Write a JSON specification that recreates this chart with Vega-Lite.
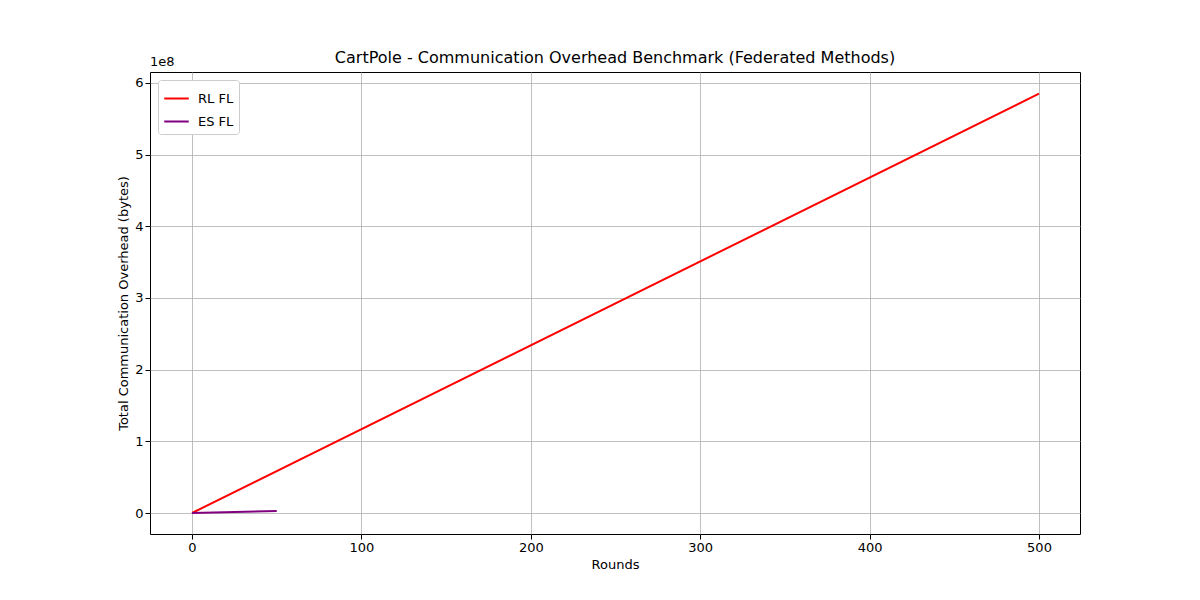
{
  "$schema": "https://vega.github.io/schema/vega-lite/v6.json",
  "width": 930,
  "height": 462,
  "autosize": {"type": "none"},
  "padding": {"left": 150, "top": 72, "right": 120, "bottom": 66},
  "config": {
    "font": "DejaVu Sans",
    "view": {"stroke": "black", "strokeWidth": 1},
    "axis": {"grid": true, "gridColor": "#b0b0b0", "gridWidth": 0.8, "domain": false, "tickColor": "black", "tickSize": 5, "labelFontSize": 13, "titleFontSize": 13, "labelColor": "black", "titleColor": "black", "titleFontWeight": "normal", "labelFont": "DejaVu Sans", "titleFont": "DejaVu Sans"}
  },
  "title": {"text": "CartPole - Communication Overhead Benchmark (Federated Methods)", "fontSize": 16, "fontWeight": "normal", "font": "DejaVu Sans", "offset": -10},
  "layer": [
    {
      "data": {"values": [
        {"round": 0, "bytes": 0, "method": "RL FL"},
        {"round": 500, "bytes": 585000000, "method": "RL FL"},
        {"round": 0, "bytes": 0, "method": "ES FL"},
        {"round": 50, "bytes": 2800000, "method": "ES FL"}
      ]},
      "mark": {"type": "line", "strokeWidth": 2},
      "encoding": {
        "x": {"field": "round", "type": "quantitative", "title": "Rounds", "scale": {"domain": [-24.8, 524.2], "nice": false, "zero": false}, "axis": {"values": [0, 100, 200, 300, 400, 500]}},
        "y": {"field": "bytes", "type": "quantitative", "title": "Total Communication Overhead (bytes)", "scale": {"domain": [-29300000, 615300000], "nice": false, "zero": false}, "axis": {"values": [0, 100000000, 200000000, 300000000, 400000000, 500000000, 600000000], "labelExpr": "format(datum.value/1e8, 'd')"}},
        "color": {"field": "method", "type": "nominal", "scale": {"domain": ["RL FL", "ES FL"], "range": ["red", "purple"]},
          "legend": {"title": null, "orient": "top-left", "offset": 8, "symbolType": "stroke", "symbolSize": 600, "symbolStrokeWidth": 2, "labelFontSize": 13, "labelOffset": 8, "strokeColor": "#cccccc", "fillColor": "white", "padding": 5, "cornerRadius": 3, "rowPadding": 2}}
      }
    },
    {
      "data": {"values": [{"x": -24.8, "y": 615300000, "t": "1e8"}]},
      "mark": {"type": "text", "align": "left", "baseline": "bottom", "dy": -3, "fontSize": 13, "font": "DejaVu Sans"},
      "encoding": {
        "x": {"field": "x", "type": "quantitative"},
        "y": {"field": "y", "type": "quantitative"},
        "text": {"field": "t"}
      }
    }
  ]
}
